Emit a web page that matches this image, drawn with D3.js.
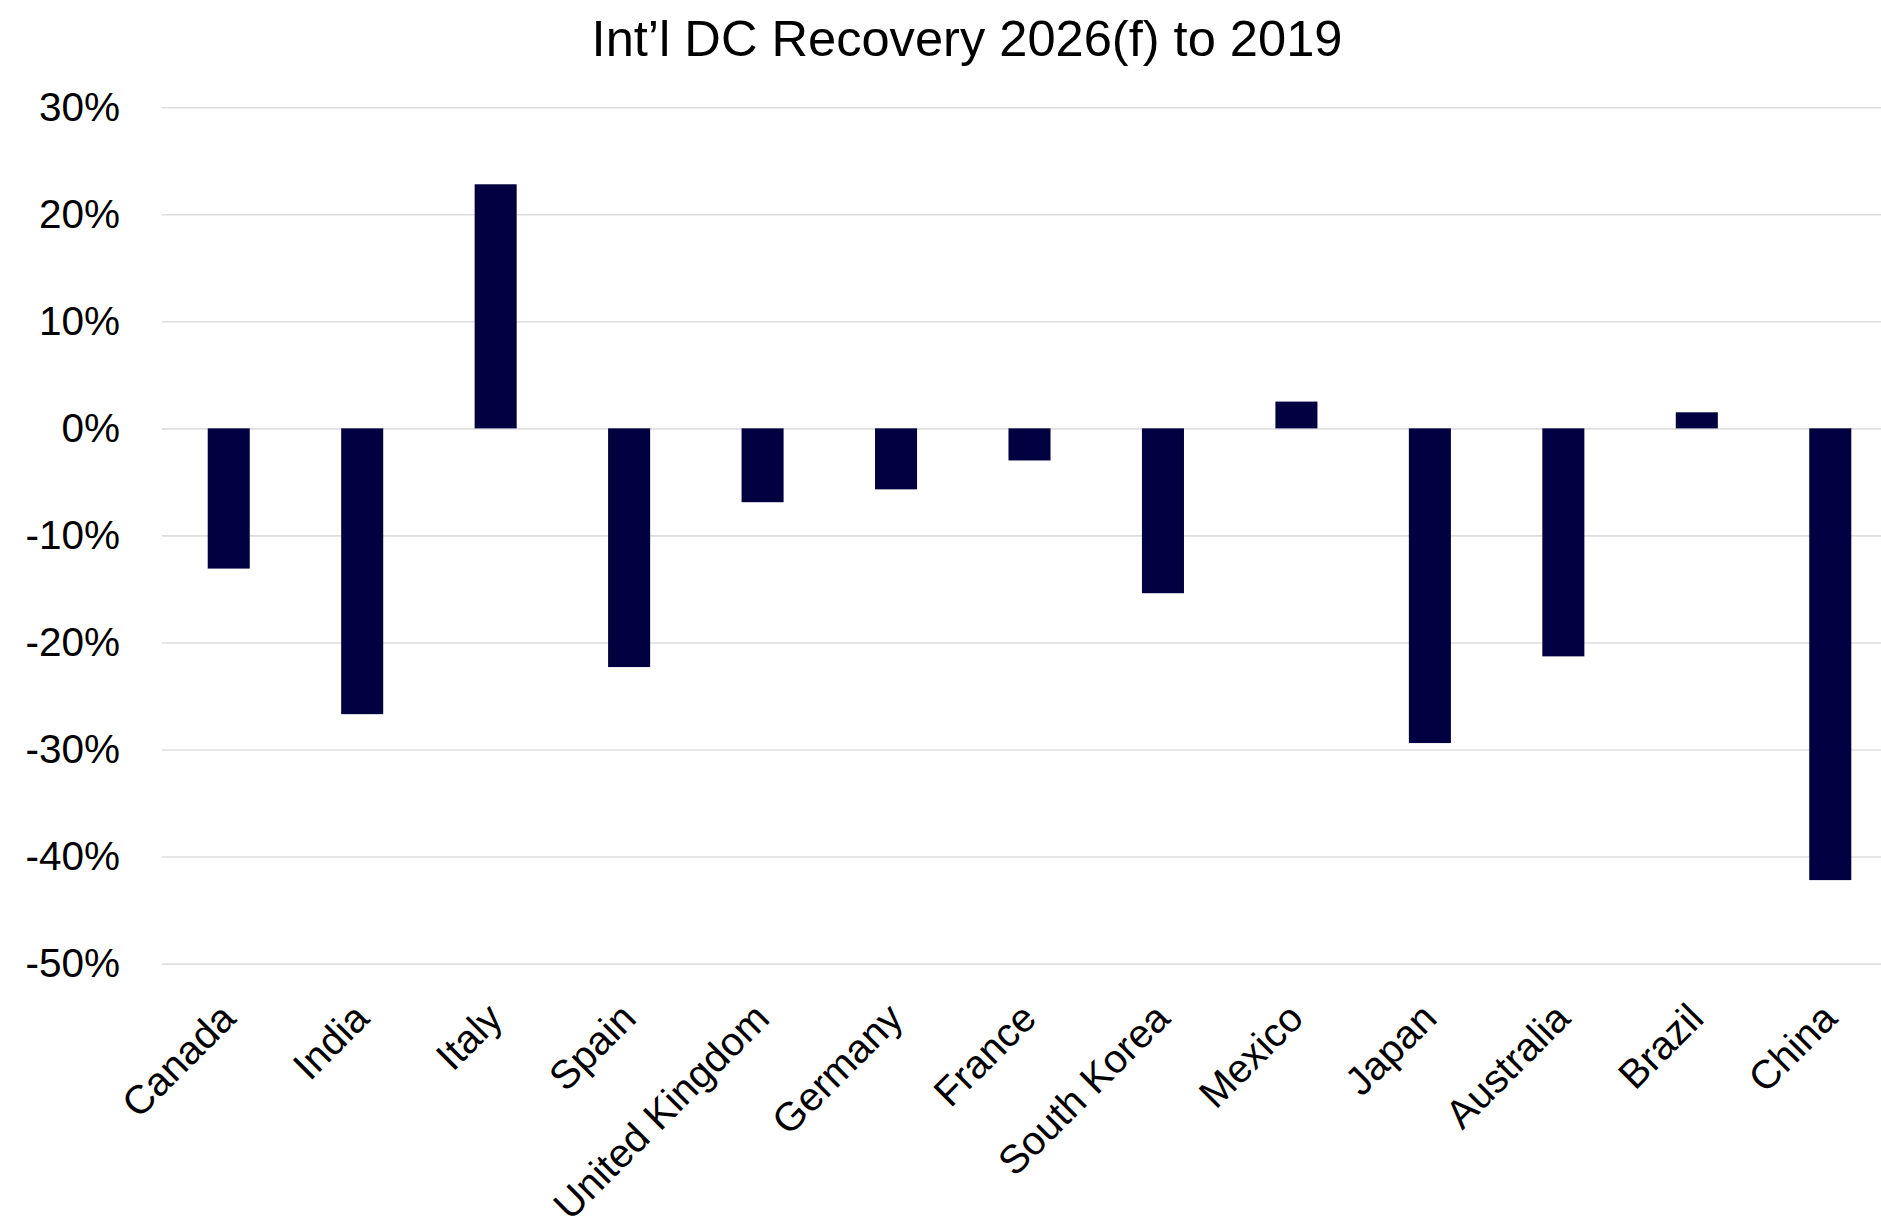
<!DOCTYPE html>
<html>
<head>
<meta charset="utf-8">
<script src="https://cdn.jsdelivr.net/npm/d3@7"></script>
<style>
  html, body { margin: 0; padding: 0; background: #ffffff; }
  svg { display: block; font-family: "Liberation Sans", Arial, sans-serif; }
</style>
</head>
<body>
<svg id="chart" width="1881" height="1227"></svg>
<script>
// Recovery of international DC travel, 2026 forecast vs 2019
const countries = ["Canada", "India", "Italy", "Spain", "United Kingdom", "Germany", "France",
                   "South Korea", "Mexico", "Japan", "Australia", "Brazil", "China"];
const recovery = [-0.131, -0.267, 0.228, -0.223, -0.069, -0.057, -0.030,
                  -0.154, 0.025, -0.294, -0.213, 0.015, -0.422];
const yTicks = [0.3, 0.2, 0.1, 0, -0.1, -0.2, -0.3, -0.4, -0.5];
const chartTitle = "Int\u2019l DC Recovery 2026(f) to 2019";

const svg = d3.select("#chart");
const plot = { left: 162, right: 1897, top: 107.2, bottom: 963.6 };

const x = d3.scaleBand()
  .domain(countries)
  .range([plot.left, plot.right])
  .paddingInner(0.685)
  .paddingOuter(0.3425);

const y = d3.scaleLinear()
  .domain([-0.5, 0.3])
  .range([plot.bottom, plot.top]);

// title
svg.append("text")
  .attr("x", 967)
  .attr("y", 56)
  .attr("text-anchor", "middle")
  .attr("font-size", 50.6)
  .attr("fill", "#000")
  .text(chartTitle);

// horizontal gridlines with percentage labels
const yAxis = d3.axisLeft(y)
  .tickValues(yTicks)
  .tickSize(-(plot.right - plot.left))
  .tickPadding(42)
  .tickFormat(d3.format(".0%"));

const gy = svg.append("g")
  .attr("transform", `translate(${plot.left},0)`)
  .call(yAxis);
gy.select(".domain").remove();
gy.selectAll(".tick line")
  .attr("stroke", "#dedede")
  .attr("stroke-width", 1.6);
gy.selectAll(".tick text")
  .attr("font-size", 40.5)
  .attr("fill", "#000")
  .attr("font-family", "Liberation Sans, Arial, sans-serif")
  .text(d => d3.format(".0%")(d).replace("\u2212", "-"));

// bars
svg.append("g")
  .selectAll("rect")
  .data(countries.map((c, i) => ({ c, v: recovery[i] })))
  .join("rect")
  .attr("x", d => x(d.c))
  .attr("width", x.bandwidth())
  .attr("y", d => y(Math.max(0, d.v)))
  .attr("height", d => Math.abs(y(d.v) - y(0)))
  .attr("fill", "#010040");

// category labels, rotated
const xAxis = d3.axisBottom(x).tickSize(0).tickPadding(0);
const gx = svg.append("g")
  .attr("transform", `translate(0,${plot.bottom})`)
  .call(xAxis);
gx.select(".domain").remove();
gx.selectAll(".tick text")
  .attr("font-size", 40)
  .attr("fill", "#000")
  .attr("font-family", "Liberation Sans, Arial, sans-serif")
  .attr("text-anchor", "end")
  .attr("dy", null)
  .attr("y", null)
  .attr("transform", "translate(9,57) rotate(-45)");
</script>
</body>
</html>
